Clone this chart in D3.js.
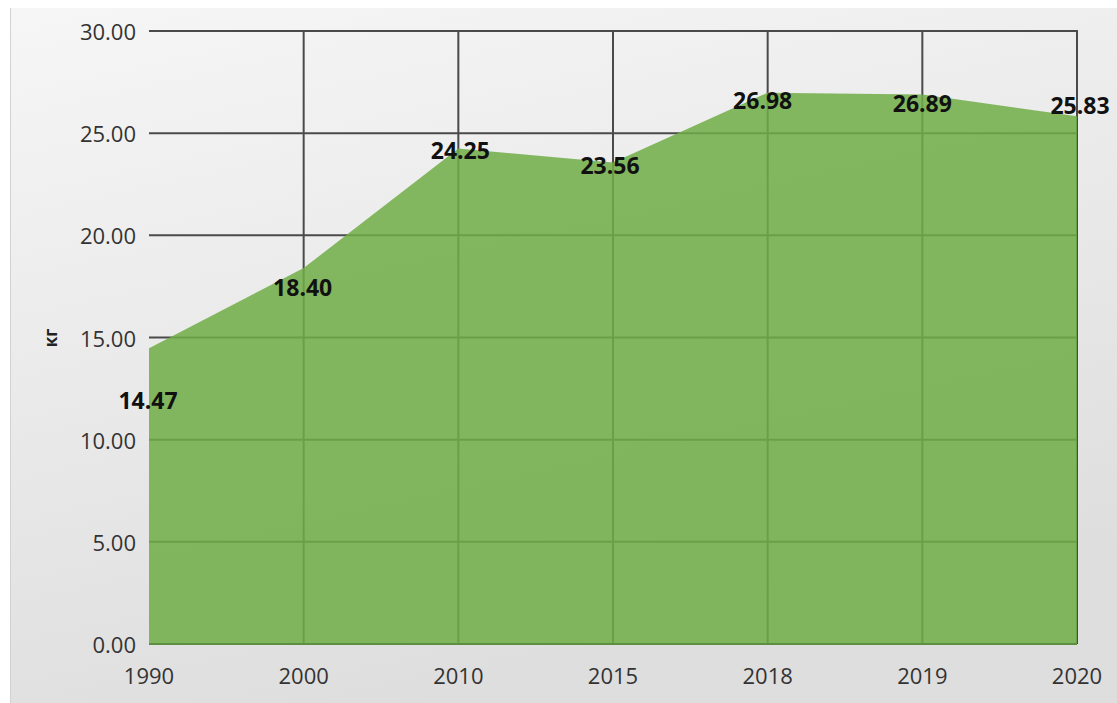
<!DOCTYPE html>
<html>
<head>
<meta charset="utf-8">
<script src="https://cdn.jsdelivr.net/npm/d3@7"></script>
<style>
  html, body { margin: 0; padding: 0; background: #ffffff; }
  svg { display: block; }
  text { font-family: "Open Sans", "DejaVu Sans", sans-serif; }
</style>
</head>
<body>
<svg id="chart" width="1117" height="703"></svg>
<script>
// Years and values (kg)
const years = ["1990", "2000", "2010", "2015", "2018", "2019", "2020"];
const values = [14.47, 18.40, 24.25, 23.56, 26.98, 26.89, 25.83];
const yTicks = [0, 5, 10, 15, 20, 25, 30];
const yTitle = "кг";

// Label placement tweaks (pixels) so value labels sit clear of the edge
const labelShift = [
  { dx: -1, dy: 52 }, { dx: -1, dy: 19 }, { dx: 2, dy: 2 }, { dx: -3, dy: 2 },
  { dx: -5, dy: 7 }, { dx: 0, dy: 8 }, { dx: 3, dy: -11 }
];

const svg = d3.select("#chart");
const W = 1117, H = 703;
const margin = { left: 149, right: 40, top: 31, bottom: 59 };

// Chart background
const defs = svg.append("defs");
const bg = defs.append("linearGradient").attr("id", "bgGrad")
  .attr("x1", 0).attr("y1", 0).attr("x2", 0.35).attr("y2", 1);
bg.append("stop").attr("offset", "0%").attr("stop-color", "#f6f6f6");
bg.append("stop").attr("offset", "100%").attr("stop-color", "#dedede");

svg.append("rect").attr("x", 0).attr("y", 0).attr("width", W).attr("height", H).attr("fill", "#ffffff");
svg.append("rect").attr("x", 10).attr("y", 8).attr("width", W - 10).attr("height", H - 8)
  .attr("fill", "url(#bgGrad)");
svg.append("line").attr("x1", 10.5).attr("x2", 10.5).attr("y1", 8).attr("y2", H)
  .attr("stroke", "#d2d2d2").attr("stroke-width", 1);

const x = d3.scalePoint().domain(years).range([margin.left, W - margin.right]);
const y = d3.scaleLinear().domain([0, 30]).range([H - margin.bottom, margin.top]);

// Horizontal gridlines
svg.append("g").selectAll("line").data(yTicks.filter(d => d > 0)).join("line")
  .attr("x1", margin.left).attr("x2", W - margin.right)
  .attr("y1", d => y(d)).attr("y2", d => y(d))
  .attr("stroke", "#4a4a4a").attr("stroke-width", 2);

// Vertical gridlines (all categories after the first)
svg.append("g").selectAll("line").data(years.slice(1)).join("line")
  .attr("x1", d => x(d)).attr("x2", d => x(d))
  .attr("y1", y(30) - 1).attr("y2", y(0))
  .attr("stroke", "#4a4a4a").attr("stroke-width", 2);

// Area
const data = years.map((yr, i) => ({ yr, v: values[i] }));
const area = d3.area().x(d => x(d.yr)).y0(y(0)).y1(d => y(d.v));
svg.append("path").datum(data).attr("d", area)
  .attr("fill", "#70ad47").attr("fill-opacity", 0.86);

// Baseline
svg.append("line").attr("x1", margin.left).attr("x2", W - margin.right)
  .attr("y1", y(0)).attr("y2", y(0))
  .attr("stroke", "#5e8f40").attr("stroke-width", 2);

// Y axis labels
svg.append("g").selectAll("text").data(yTicks).join("text")
  .attr("x", 136).attr("y", d => y(d))
  .attr("text-anchor", "end").attr("dominant-baseline", "central")
  .attr("font-size", 22).attr("fill", "#333333")
  .text(d => d3.format(".2f")(d));

// X axis labels
svg.append("g").selectAll("text").data(years).join("text")
  .attr("x", d => x(d)).attr("y", 675)
  .attr("text-anchor", "middle").attr("dominant-baseline", "central")
  .attr("font-size", 22).attr("fill", "#333333")
  .text(d => d);

// Y axis title
svg.append("text")
  .attr("transform", "translate(50,338) rotate(-90)")
  .attr("text-anchor", "middle").attr("dominant-baseline", "central")
  .attr("font-size", 17).attr("font-weight", "bold").attr("fill", "#222222")
  .text(yTitle);

// Value labels
svg.append("g").selectAll("text").data(data).join("text")
  .attr("x", (d, i) => x(d.yr) + labelShift[i].dx)
  .attr("y", (d, i) => y(d.v) + labelShift[i].dy)
  .attr("text-anchor", "middle").attr("dominant-baseline", "central")
  .attr("font-size", 23).attr("font-weight", "bold").attr("fill", "#111111")
  .text(d => d3.format(".2f")(d.v));
</script>
</body>
</html>
